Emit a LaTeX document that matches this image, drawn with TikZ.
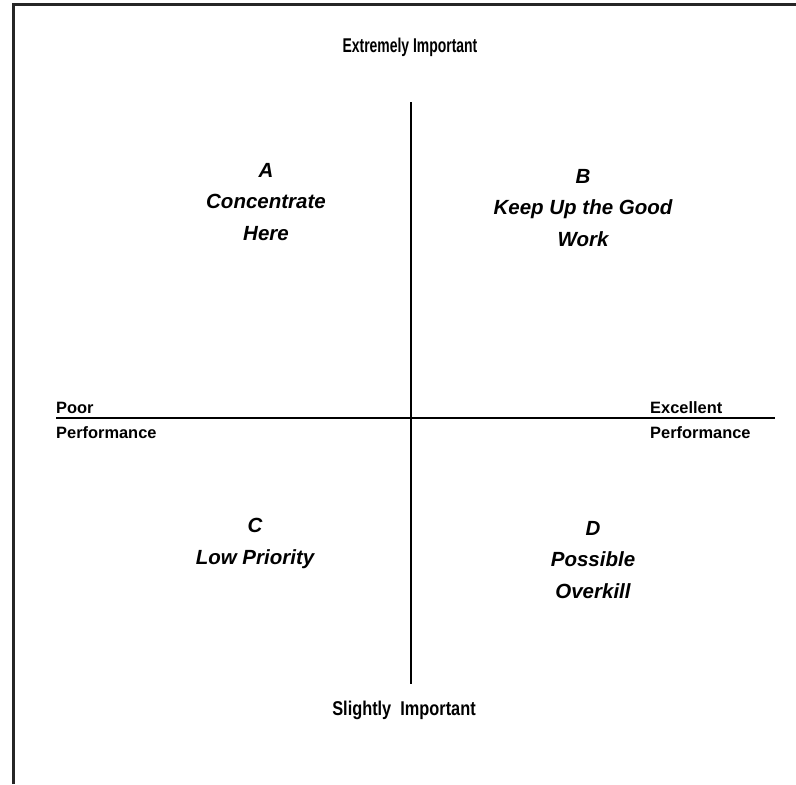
\documentclass[tikz,border=0pt]{standalone}
\usepackage{fontspec}
\setmainfont{Liberation Sans}
\usepackage{tikz}

\tikzset{
    quadrant/.style={font=\bfseries\itshape\fontsize{17.5}{26.5}\selectfont, align=center, anchor=base, inner sep=0pt},
    endlabel/.style={font=\bfseries\fontsize{14}{16}\selectfont, anchor=base west, inner sep=0pt},
    importance/.style={font=\bfseries\fontsize{17}{20}\selectfont, anchor=base, inner sep=0pt},
    axisline/.style={line width=1.4pt}
}

\begin{document}
\begin{tikzpicture}[x=0.03cm, y=-0.03cm]
                \useasboundingbox (0,0) rectangle (796,784);
                % frame, only its left and top edges fall inside
                \draw[line width=2pt, black!85] (13.5,784) -- (13.5,4.5) -- (796,4.5);

                % axes
                \coordinate (top) at (411,102);
                \coordinate (bottom) at (411,684);
                \coordinate (left) at (56,418);
                \coordinate (right) at (775,418);
                \draw[axisline] (top) -- (bottom);
                \draw[axisline] (left) -- (right);

                % importance scale
                \node[importance] (hi) at (410,52) {\scalebox{0.70}[1]{Extremely Important}};
                \node[importance] (lo) at (404,715) {\scalebox{0.82}[1]{Slightly\ \ Important}};

                % performance scale
                \node[endlabel] (poor) at (56,413) {Poor};
                \node[endlabel] (poorperf) at (56,438) {Performance};
                \node[endlabel] (exc) at (650,413) {Excellent};
                \node[endlabel] (excperf) at (650,438) {Performance};

                % quadrants (base = last line)
                \node[quadrant] (qa) at (266,240) {A\\Concentrate\\Here};
                \node[quadrant] (qb) at (583,246) {B\\Keep Up the Good\\Work};
                \node[quadrant] (qc) at (255,564) {C\\Low Priority};
                \node[quadrant] (qd) at (593,598) {D\\Possible\\Overkill};
            \end{tikzpicture}
\end{document}
